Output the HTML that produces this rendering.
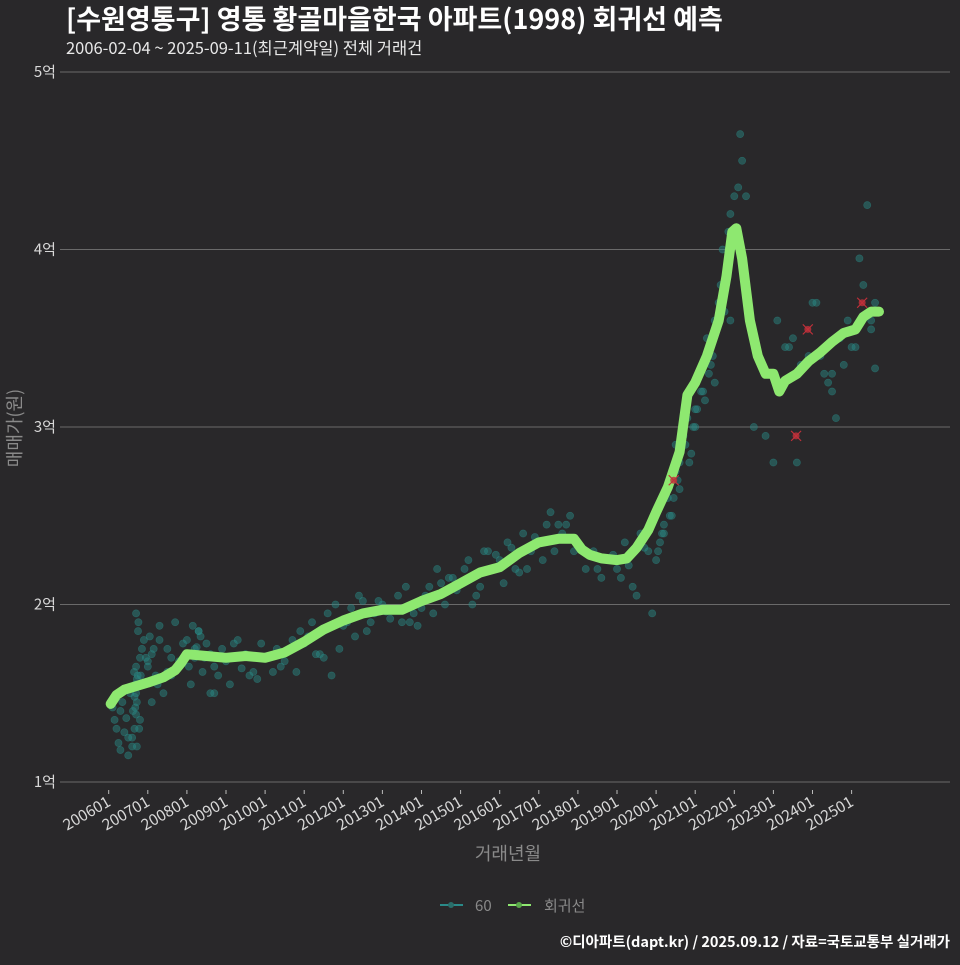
<!DOCTYPE html>
<html><head><meta charset="utf-8">
<style>
html,body{margin:0;padding:0;background:#29282a;}
body{width:960px;height:960px;overflow:hidden;font-family:"Noto Sans CJK KR","Liberation Sans",sans-serif;}
svg text{font-family:"Noto Sans CJK KR","Liberation Sans",sans-serif;}
</style></head>
<body>
<svg id="chart" width="960" height="960" xmlns="http://www.w3.org/2000/svg">
<rect width="960" height="960" fill="#29282a"/>
<text x="66" y="29" font-size="27" font-weight="bold" fill="#ffffff">[수원영통구] 영통 황골마을한국 아파트(1998) 회귀선 예측</text>
<text x="66" y="54" font-size="16.5" fill="#e8e8e8">2006-02-04 ~ 2025-09-11(최근계약일) 전체 거래건</text>
<g id="grid"></g>
<g id="yaxis"></g>
<g id="xaxis"></g>
<g id="points"></g>
<g id="reg"></g>
<g id="marks"></g>
<text transform="translate(21,428) rotate(-90)" text-anchor="middle" font-size="18" fill="#8a8a8a">매매가(원)</text>
<text x="508" y="860" text-anchor="middle" font-size="18" fill="#8a8a8a">거래년월</text>
<g>
  <g>
    <line x1="440" y1="905" x2="463" y2="905" stroke="#2a8a88" stroke-width="2"/>
    <circle cx="451" cy="905" r="3" fill="#2a6e6a"/>
    <text x="475" y="911" font-size="15" fill="#8a8a8a">60</text>
  </g>
  <g>
    <line x1="508" y1="905" x2="531" y2="905" stroke="#8ee870" stroke-width="2"/>
    <circle cx="519" cy="905" r="3" fill="#5aa84a"/>
    <text x="544" y="911" font-size="15" fill="#8a8a8a">회귀선</text>
  </g>
</g>
<text x="950" y="947" text-anchor="end" font-size="14.5" font-weight="bold" fill="#ffffff">©디아파트(dapt.kr) / 2025.09.12 / 자료=국토교통부 실거래가</text>
</svg>
<script>
// ---- data ----
const yTicks = [1, 2, 3, 4, 5];
const yTickLabels = ["1억", "2억", "3억", "4억", "5억"];
const xTickYears = [2006,2007,2008,2009,2010,2011,2012,2013,2014,2015,2016,2017,2018,2019,2020,2021,2022,2023,2024,2025];
const xTickLabels = ["200601","200701","200801","200901","201001","201101","201201","201301","201401","201501","201601","201701","201801","201901","202001","202101","202201","202301","202401","202501"];
const regDates = [2006.05,2006.2,2006.4,2006.7,2007.0,2007.4,2007.7,2007.85,2008.0,2008.5,2009.0,2009.5,2010.0,2010.5,2011.0,2011.5,2012.0,2012.5,2013.0,2013.5,2014.0,2014.5,2015.0,2015.5,2016.0,2016.5,2017.0,2017.5,2017.9,2018.1,2018.3,2018.6,2019.0,2019.25,2019.5,2019.8,2020.0,2020.3,2020.6,2020.8,2021.0,2021.3,2021.6,2021.8,2021.95,2022.05,2022.2,2022.4,2022.6,2022.8,2023.0,2023.15,2023.3,2023.6,2023.9,2024.2,2024.5,2024.8,2025.1,2025.3,2025.5,2025.7];
const regValues = [1.44,1.49,1.52,1.54,1.56,1.59,1.63,1.67,1.72,1.71,1.70,1.71,1.70,1.73,1.79,1.86,1.91,1.95,1.97,1.97,2.02,2.06,2.12,2.18,2.21,2.29,2.35,2.37,2.37,2.31,2.28,2.26,2.25,2.26,2.32,2.42,2.52,2.66,2.86,3.18,3.25,3.40,3.60,3.85,4.10,4.12,3.95,3.60,3.40,3.30,3.30,3.20,3.26,3.30,3.37,3.42,3.48,3.53,3.55,3.62,3.65,3.65];
const ptDates = [2006.1,2006.15,2006.2,2006.25,2006.3,2006.35,2006.4,2006.45,2006.5,2006.55,2006.6,2006.62,2006.65,2006.68,2006.7,2006.72,2006.75,2006.78,2006.8,2006.82,2006.85,2006.9,2006.95,2007.0,2007.05,2007.1,2007.2,2007.3,2007.4,2007.5,2007.6,2007.7,2007.8,2007.9,2008.0,2008.1,2008.2,2008.3,2008.4,2008.5,2008.6,2008.7,2008.8,2008.9,2009.0,2009.1,2009.3,2009.5,2009.7,2009.9,2010.1,2010.3,2010.5,2010.7,2010.9,2011.0,2011.2,2011.4,2011.6,2011.8,2012.0,2012.2,2012.4,2012.6,2012.8,2013.0,2013.2,2013.4,2013.6,2013.8,2014.0,2014.2,2014.4,2014.6,2014.8,2015.0,2015.2,2015.4,2015.6,2015.8,2016.0,2016.2,2016.4,2016.6,2016.8,2017.0,2017.2,2017.4,2017.6,2017.8,2018.0,2018.2,2018.4,2018.6,2018.8,2019.0,2019.2,2019.4,2019.6,2019.8,2020.0,2020.1,2020.2,2020.3,2020.4,2020.5,2020.6,2020.7,2020.8,2020.9,2021.0,2021.1,2021.2,2021.3,2021.4,2021.5,2021.6,2021.7,2021.8,2021.9,2022.0,2022.3,2022.5,2022.8,2023.1,2023.3,2023.5,2023.7,2023.9,2024.1,2024.3,2024.5,2024.7,2024.9,2025.1,2025.3,2025.5,2025.6,
 2006.3,2006.5,2006.6,2006.7,2006.75,2006.8,2007.1,2007.3,2007.6,2008.2,2008.6,2009.2,2009.6,2010.4,2011.3,2011.7,2012.3,2012.9,2013.5,2014.3,2014.9,2015.3,2016.1,2016.7,2017.1,2017.7,2018.5,2019.1,2019.5,2020.2,2020.6,2021.0,2021.5,2021.9,2022.1,2023.0,2023.6,2024.0,2024.6,2025.2,2025.6,2006.68,2006.72,2006.76,2007.5,2008.3,2008.7,2009.8,2010.8,2011.9,2012.7,2013.9,2014.7,2015.7,2016.5,2017.3,2018.9,2019.9,2020.5,2021.25,2021.65,2022.15,2023.4,2024.4,2025.4,
 2006.66,2006.7,2006.74,2006.7,2006.66,2006.72,2007.0,2007.15,2007.25,2008.05,2008.15,2008.25,2008.35,2008.45,2009.4,2010.2,2010.6,2011.1,2011.5,2012.1,2012.5,2013.1,2013.7,2014.1,2014.5,2015.1,2015.5,2015.9,2016.3,2016.9,2017.5,2017.9,2019.3,2019.7,2020.05,2020.15,2020.35,2020.45,2020.55,2020.75,2020.85,2020.95,2021.05,2021.15,2021.35,2021.45,2021.55,2021.75,2021.85,2022.2,2024.2,2024.5,2024.8,2025.0,2025.5];
const ptValues = [1.42,1.35,1.30,1.22,1.40,1.45,1.28,1.36,1.25,1.50,1.20,1.40,1.62,1.55,1.95,1.45,1.85,1.30,1.70,1.60,1.75,1.80,1.70,1.65,1.82,1.72,1.60,1.88,1.50,1.75,1.60,1.90,1.68,1.78,1.80,1.55,1.70,1.85,1.62,1.78,1.72,1.65,1.60,1.75,1.68,1.55,1.80,1.72,1.62,1.78,1.70,1.75,1.68,1.80,1.85,1.78,1.90,1.72,1.95,2.00,1.88,1.98,2.05,1.85,1.95,2.00,1.92,2.05,2.10,1.95,1.98,2.10,2.20,2.00,2.15,2.12,2.25,2.05,2.30,2.20,2.25,2.35,2.20,2.40,2.30,2.35,2.45,2.30,2.40,2.50,2.35,2.20,2.30,2.15,2.25,2.20,2.35,2.10,2.40,2.30,2.25,2.35,2.45,2.60,2.50,2.75,2.65,2.95,3.05,2.85,3.10,3.30,3.20,3.50,3.35,3.60,3.70,4.00,3.85,4.20,4.30,4.30,3.00,2.95,3.60,3.45,3.50,3.35,3.40,3.70,3.30,3.20,3.50,3.60,3.45,3.80,3.55,3.70,
 1.18,1.15,1.25,1.65,1.55,1.35,1.45,1.80,1.70,1.75,1.50,1.78,1.60,1.65,1.72,1.60,1.82,2.02,1.90,1.95,2.08,2.00,2.12,2.20,2.25,2.45,2.20,2.15,2.05,2.40,2.80,3.00,3.25,3.60,4.35,2.80,2.80,3.70,3.05,3.95,3.33,1.42,1.20,1.90,1.62,1.85,1.50,1.58,1.62,1.75,1.90,1.88,2.15,2.30,2.18,2.52,2.28,1.95,2.90,3.15,3.80,4.65,3.45,3.25,4.25,
 1.30,1.50,1.60,1.38,1.48,1.58,1.68,1.75,1.55,1.65,1.88,1.76,1.82,1.70,1.64,1.62,1.74,1.82,1.70,1.90,2.02,1.96,1.90,2.05,2.12,2.20,2.10,2.28,2.32,2.38,2.45,2.30,2.22,2.32,2.30,2.40,2.50,2.60,2.70,2.90,2.80,3.00,3.10,3.20,3.30,3.40,3.55,3.65,4.10,4.50,3.40,3.30,3.35,3.45,3.60];
const markDates = [2020.45,2023.58,2023.88,2025.27];
const markValues = [2.70,2.95,3.55,3.70];

// ---- scales ----
const X0 = 108.7, XPER = 39.1, Y1 = 782, YPER = 177.5;
function xs(d){ return X0 + (d - 2006) * XPER; }
function ys(v){ return Y1 - (v - 1) * YPER; }
const NS = "http://www.w3.org/2000/svg";
function mk(tag, parent, attrs){ const e = document.createElementNS(NS, tag); for (const k in attrs) e.setAttribute(k, attrs[k]); parent.appendChild(e); return e; }

const grid = document.getElementById('grid');
const yaxis = document.getElementById('yaxis');
yTicks.forEach((t,i)=>{
  const l = mk('line', grid, {x1:60, x2:950, y1:ys(t), y2:ys(t), stroke:'#6a6a6a', 'stroke-width':1});
  
  
  const tx = mk('text', yaxis, {x:56, y:ys(t)+5, 'text-anchor':'end', 'font-size':15, fill:'#d8d8d8'});
  tx.textContent = yTickLabels[i];
  
  
});
const xaxis = document.getElementById('xaxis');
xTickYears.forEach((yr,i)=>{
  const x = xs(yr);
  const tk = mk('line', xaxis, {x1:x, x2:x, y1:790, y2:794, stroke:'#bbbbbb', 'stroke-width':1});
  
  
  const tx = mk('text', xaxis, {x:x+3, y:805, 'text-anchor':'end', 'font-size':15.5, fill:'#d8d8d8', transform:`rotate(-30 ${x+3} 805)`});
  tx.textContent = xTickLabels[i];
  
  
});

const pts = document.getElementById('points');
ptDates.forEach((d,i)=>{
  const c = mk('circle', pts, {cx:xs(d), cy:ys(ptValues[i]), r:3.6, fill:'#2a8c88', 'fill-opacity':0.45, stroke:'#2a8c88', 'stroke-opacity':0.5, 'stroke-width':0.6});
  
  
});

const reg = document.getElementById('reg');
const dpath = regDates.map((d,i)=>(i?'L':'M')+xs(d).toFixed(1)+','+ys(regValues[i]).toFixed(1)).join(' ');
const p = mk('path', reg, {d:dpath, fill:'none', stroke:'#8ee870', 'stroke-width':10, 'stroke-linecap':'round', 'stroke-linejoin':'round'});



const marks = document.getElementById('marks');
markDates.forEach((d,i)=>{
  const x = xs(d), y = ys(markValues[i]);
  const g = mk('g', marks, {});
  
  
  mk('circle', g, {cx:x, cy:y, r:3.5, fill:'#c0303a', 'fill-opacity':0.8});
  mk('path', g, {d:`M${x-5},${y-5}L${x+5},${y+5}M${x-5},${y+5}L${x+5},${y-5}`, stroke:'#c0303a', 'stroke-width':1.2});
});
</script>
</body></html>
